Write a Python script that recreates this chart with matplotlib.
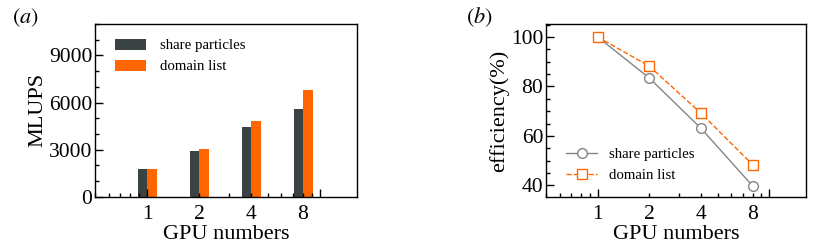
import numpy as np
import matplotlib.pyplot as plt
import matplotlib
from matplotlib.ticker import FuncFormatter, MultipleLocator, LogLocator

matplotlib.rc('font', family='Liberation Serif')
matplotlib.rc('mathtext', fontset='stix')

gpus = [1, 2, 4, 8]
gpu_labels = {1: '1', 2: '2', 4: '4', 8: '8'}
mlups_share = [1750, 2900, 4420, 5600]
mlups_domain = [1750, 3070, 4850, 6810]
eff_share = [100, 83.4, 63.1, 39.8]
eff_domain = [100, 88.2, 69.2, 48.4]

c_dark = '#3b4243'
c_orange = '#ff6600'
c_gray = '#858585'

fig = plt.figure(figsize=(8.3, 2.49), dpi=100)
ax1 = fig.add_axes([0.1145, 0.209, 0.3155, 0.695])
ax2 = fig.add_axes([0.658, 0.209, 0.313, 0.695])


def lab(v, pos):
    for k, s in gpu_labels.items():
        if abs(v - k) < 1e-6:
            return s
    return ''


def style_axis(ax):
    ax.set_xscale('log')
    ax.set_xlim(0.5, 16.4)
    ax.xaxis.set_major_locator(LogLocator(base=10))
    ax.xaxis.set_minor_locator(LogLocator(base=10, subs=np.arange(2, 10)))
    ax.xaxis.set_major_formatter(FuncFormatter(lab))
    ax.xaxis.set_minor_formatter(FuncFormatter(lab))
    ax.tick_params(which='both', direction='in', top=False, right=False, labelsize=15.5)
    ax.tick_params(which='major', length=6, width=1)
    ax.tick_params(which='minor', length=3, width=1)
    ax.tick_params(axis='x', which='both', pad=6)
    ax.tick_params(axis='y', which='both', pad=2)
    for s in ax.spines.values():
        s.set_linewidth(1.0)
    ax.set_xlabel('GPU numbers', fontsize=16, labelpad=0.5)


# (a) bars, drawn as equal widths in log space
r = 1.135
x = np.array(gpus, dtype=float)
ax1.bar(x / r, mlups_share, width=x - x / r, align='edge', color=c_dark, label='share particles')
ax1.bar(x, mlups_domain, width=x * r - x, align='edge', color=c_orange, label='domain list')
style_axis(ax1)
ax1.set_ylim(0, 11000)
ax1.yaxis.set_major_locator(MultipleLocator(3000))
ax1.yaxis.set_minor_locator(MultipleLocator(1000))
ax1.set_ylabel('MLUPS', fontsize=16, labelpad=1)
ax1.legend(loc='upper left', frameon=False, fontsize=10.7, handlelength=2.1,
           handleheight=0.75, borderaxespad=0.6, labelspacing=0.5, handletextpad=0.9,
           bbox_to_anchor=(0.02, 1.0))
fig.text(0.014, 0.905, '$(a)$', fontsize=16)

# (b) efficiency
ax2.plot(gpus, eff_share, '-', color=c_gray, lw=1.0, marker='o', ms=7,
         mfc='white', mec=c_gray, mew=1.0, label='share particles')
ax2.plot(gpus, eff_domain, '--', color=c_orange, lw=1.0, marker='s', ms=6.5,
         mfc='white', mec=c_orange, mew=1.0, label='domain list')
style_axis(ax2)
ax2.set_ylim(35.3, 105.3)
ax2.yaxis.set_major_locator(MultipleLocator(20))
ax2.yaxis.set_minor_locator(MultipleLocator(5))
ax2.set_ylabel('efficiency(%)', fontsize=16, labelpad=1)
ax2.legend(loc='lower left', frameon=False, fontsize=10.7, handlelength=2.1,
           borderaxespad=0.6, labelspacing=0.5, handletextpad=0.8,
           bbox_to_anchor=(0.02, 0.0))
fig.text(0.561, 0.905, '$(b)$', fontsize=16)

fig.savefig('out.png', dpi=100)
